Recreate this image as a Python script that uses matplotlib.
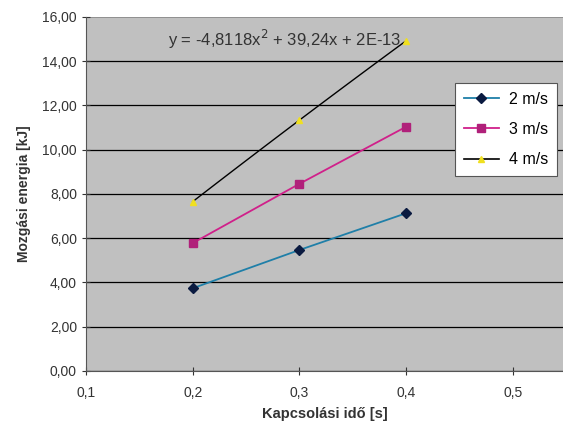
import matplotlib.pyplot as plt
import numpy as np

t = [0.2, 0.3, 0.4]
e_2 = [3.74, 5.47, 7.13]
e_3 = [5.78, 8.46, 11.04]
e_4 = [7.66, 11.34, 14.93]
fit_4 = [-4.8118, 39.24, 2e-13]   # Excel trendline coefficients
labels = ["2 m/s", "3 m/s", "4 m/s"]
xticks = [0.1, 0.2, 0.3, 0.4, 0.5]
yticks = np.arange(0, 16.01, 2)

plt.rcParams['font.family'] = ['Liberation Sans', 'DejaVu Sans']

fig = plt.figure(figsize=(5.63, 4.28), dpi=100)
ax = fig.add_axes([0.1528, 0.1332, 0.8472, 0.8271])
ax.set_facecolor("#c0c0c0")

for y in yticks[:-1]:
    ax.axhline(y, color="black", lw=0.9, zorder=1)
ax.axhline(yticks[-1], color="#888888", lw=1.2, zorder=1)

ax.plot(t, e_2, color="#1f7fa8", lw=1.3, marker="D", ms=5,
        mfc="#0a1a40", mec="#0a1a40", label=labels[0], zorder=3)
ax.plot(t, e_3, color="#d0208a", lw=1.3, marker="s", ms=6,
        mfc="#b0207a", mec="#b0207a", label=labels[1], zorder=3)

# 4 m/s: black trendline + yellow markers
xs = np.linspace(t[0], t[-1], 50)
ax.plot(xs, np.polyval(fit_4, xs), color="black", lw=1.0, zorder=3)
ax.plot(t, e_4, ls="none", marker="^", ms=5, mfc="#f0e020", mec="#f0e020", zorder=4)
ax.plot([], [], color="black", lw=1.2, marker="^", ms=5, mfc="#f0e020",
        mec="#f0e020", label=labels[2])

ax.text(0.396, 15.0, "y = -4,8118x$^2$ + 39,24x + 2E-13", ha="right", va="center",
        fontsize=12, color="#333333")

ax.set_xlim(0.1, 0.547)
ax.set_ylim(0, 16)
ax.set_xticks(xticks)
ax.set_xticklabels([f"{v:.1f}".replace(".", ",") for v in xticks])
ax.set_yticks(yticks)
ax.set_yticklabels([f"{v:.2f}".replace(".", ",") for v in yticks])
ax.tick_params(axis="both", labelsize=10, colors="#333333", direction="inout", length=6)
ax.tick_params(axis="x", pad=8)

for s in ["top", "right"]:
    ax.spines[s].set_visible(False)
ax.spines["left"].set_color("#555555")
ax.spines["bottom"].set_color("#555555")

ax.set_xlabel("Kapcsolási idő [s]", fontsize=10.5, fontweight="bold", color="#333333", labelpad=5)
ax.set_ylabel("Mozgási energia [kJ]", fontsize=10, fontweight="bold", color="#333333", labelpad=8)

leg = ax.legend(loc="upper left", bbox_to_anchor=(0.7736, 0.8136), borderaxespad=0,
                fancybox=False, framealpha=1, edgecolor="#555555", fontsize=11.5,
                handlelength=2.2, handletextpad=0.6, labelspacing=0.95, borderpad=0.55)
leg.get_frame().set_linewidth(0.8)

fig.savefig("out.png", dpi=100)
